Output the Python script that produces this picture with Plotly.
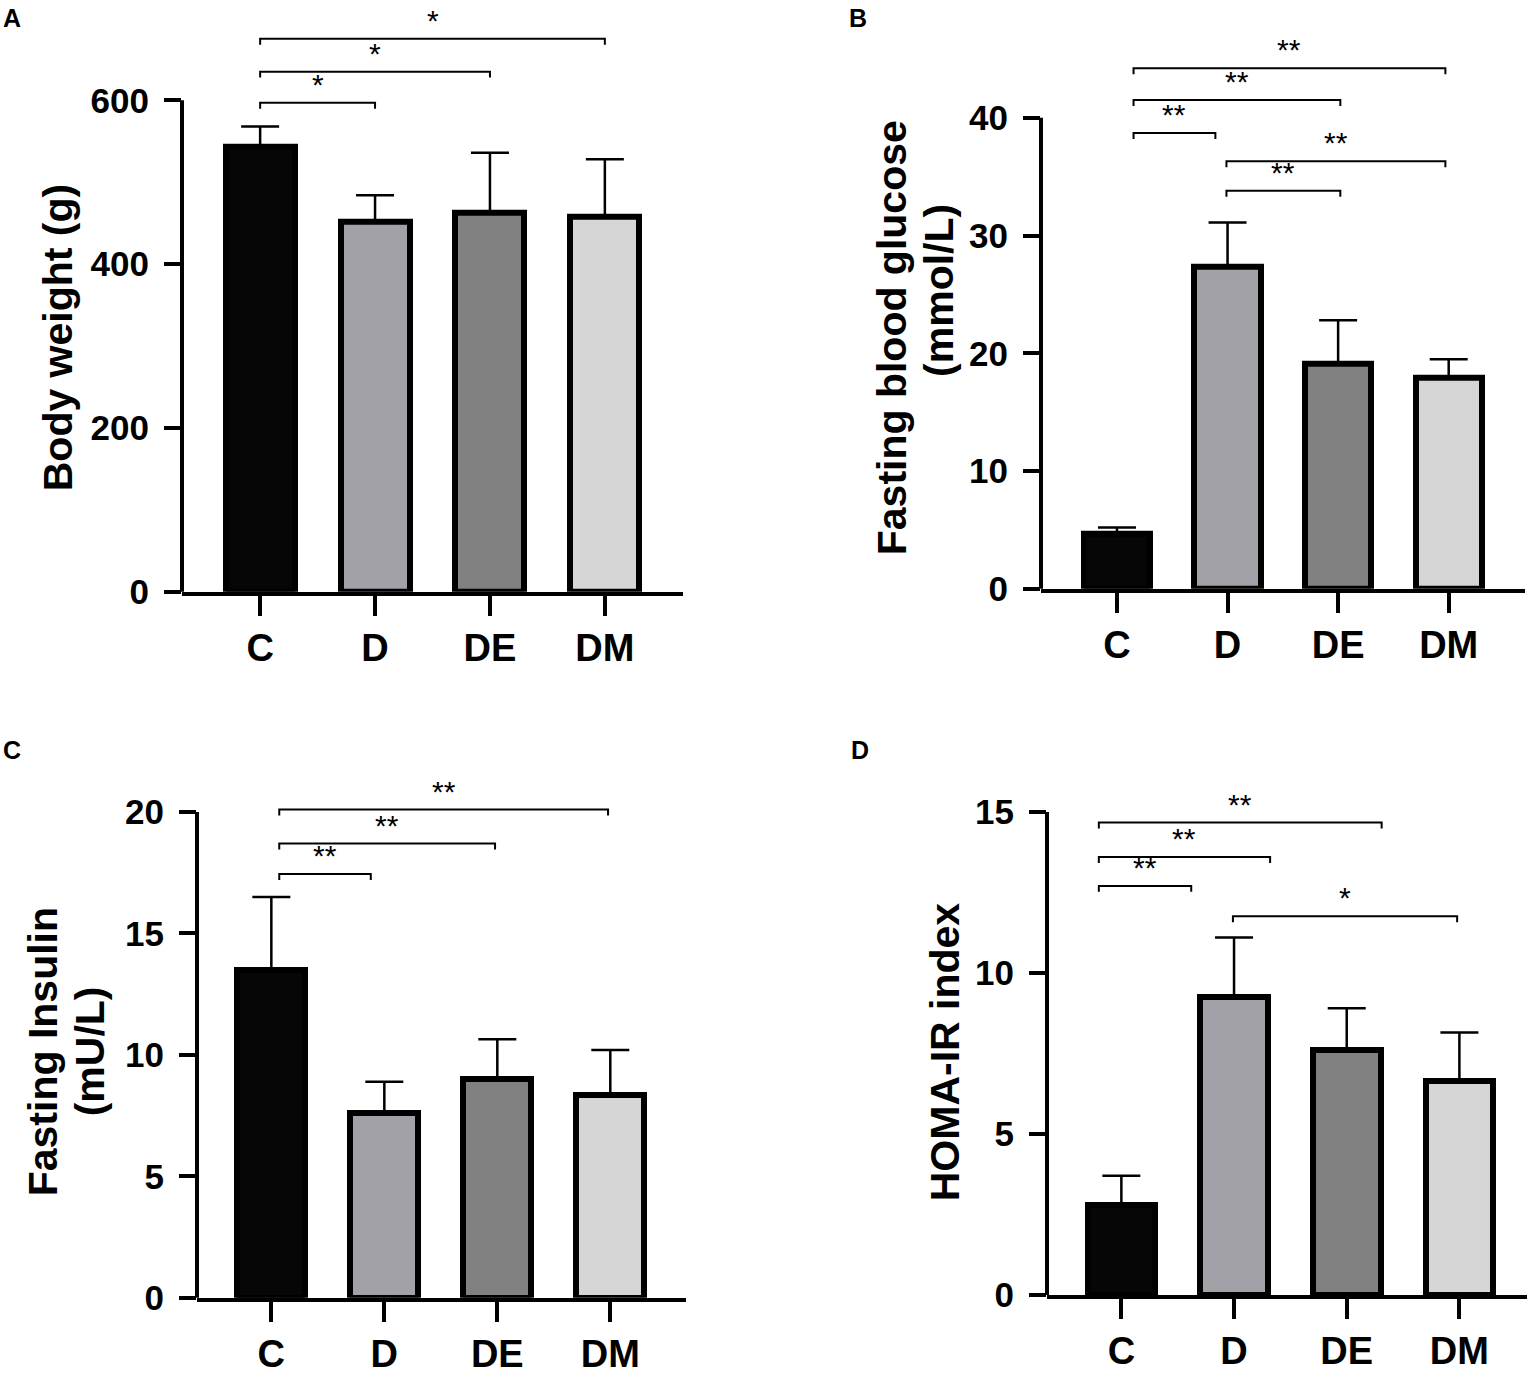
import plotly.graph_objects as go

W, H = 1535, 1377

# ---- data ----
groups = ["C", "D", "DE", "DM"]
bar_colors = ["#060606", "#a1a1a7", "#808180", "#d6d6d6"]

body_weight = [543, 452, 462, 458]
body_weight_sd = [25, 32, 74, 70]

glucose = [4.7, 27.3, 19.1, 17.9]
glucose_sd = [0.5, 3.8, 3.7, 1.6]

insulin = [13.5, 7.6, 9.0, 8.35]
insulin_sd = [3.0, 1.3, 1.65, 1.85]

homa = [2.8, 9.25, 7.6, 6.65]
homa_sd = [0.9, 1.85, 1.3, 1.5]

# significance brackets: (from group, to group, height, label)
brackets_a = [(0, 1, 597, "*"), (0, 2, 635, "*"), (0, 3, 675, "*")]
brackets_b = [(0, 1, 38.7, "**"), (0, 2, 41.5, "**"), (0, 3, 44.2, "**"),
              (1, 2, 33.8, "**"), (1, 3, 36.3, "**")]
brackets_c = [(0, 1, 17.45, "**"), (0, 2, 18.7, "**"), (0, 3, 20.1, "**")]
brackets_d = [(0, 1, 12.7, "**"), (0, 2, 13.6, "**"), (0, 3, 14.67, "**"), (1, 3, 11.76, "*")]

# little horizontal nudges of the bracket ends (as drawn in the original)
nudge_a = [(0, 0), (0, 0), (0, 0)]
nudge_b = [(0.15, -0.11), (0.15, 0.02), (0.15, -0.03), (-0.01, 0.02), (-0.01, -0.03)]
nudge_c = [(0.07, -0.12), (0.07, -0.02), (0.07, -0.02)]
nudge_d = [(-0.2, -0.38), (-0.2, -0.68), (-0.2, -0.69), (-0.01, -0.02)]

# y titles, one entry per line: (text, x px, y px)
title_a = [("Body weight (g)", 58, 343)]
title_b = [("Fasting blood glucose", 892, 343), ("(mmol/L)", 939, 295)]
title_c = [("Fasting Insulin", 43, 1067), ("(mU/L)", 90, 1066)]
title_d = [("HOMA-IR index", 945, 1067)]

# panel layout in pixels
panels = [
    dict(letter="A", vals=body_weight, sd=body_weight_sd, ticks=[0, 200, 400, 600],
         title=title_a, brackets=brackets_a, nudge=nudge_a,
         xpx=(182, 683), xr=(-0.68, 3.68), zero=600, top=10, ppu=0.8305, letter_xy=(12, 18)),
    dict(letter="B", vals=glucose, sd=glucose_sd, ticks=[0, 10, 20, 30, 40],
         title=title_b, brackets=brackets_b, nudge=nudge_b,
         xpx=(1041, 1525), xr=(-0.687, 3.69), zero=597, top=10, ppu=11.94, letter_xy=(858, 18)),
    dict(letter="C", vals=insulin, sd=insulin_sd, ticks=[0, 5, 10, 15, 20],
         title=title_c, brackets=brackets_c, nudge=nudge_c,
         xpx=(197, 686), xr=(-0.658, 3.67), zero=1316, top=730, ppu=24.63, letter_xy=(12, 760)),
    dict(letter="D", vals=homa, sd=homa_sd, ticks=[0, 5, 10, 15],
         title=title_d, brackets=brackets_d, nudge=nudge_d,
         xpx=(1047, 1527), xr=(-0.66, 3.6), zero=1313, top=730, ppu=32.65, letter_xy=(860, 760)),
]

FONT = "Liberation Sans, Arial, sans-serif"

fig = go.Figure()
shapes = []
annotations = []
layout = {}

for i, p in enumerate(panels):
    n = "" if i == 0 else str(i + 1)
    xa, ya = "x" + n, "y" + n
    xs = list(range(len(groups)))
    ymax = (p["zero"] - p["top"]) / p["ppu"]
    unit = 1.0 / p["ppu"]  # data units per pixel

    fig.add_trace(go.Bar(
        x=xs, y=p["vals"], width=0.6, xaxis=xa, yaxis=ya,
        marker=dict(color=bar_colors, line=dict(color="black", width=6)),
        error_y=dict(type="data", symmetric=False, array=p["sd"],
                     arrayminus=[0] * len(xs), color="black", thickness=2.5, width=19),
        showlegend=False,
    ))

    for (a, b, h, lab), (na, nb) in zip(p["brackets"], p["nudge"]):
        x0, x1 = a + na, b + nb
        drop = 6 * unit
        fig.add_trace(go.Scatter(
            x=[x0, x0, x1, x1], y=[h - drop, h, h, h - drop], mode="lines",
            line=dict(color="black", width=2), xaxis=xa, yaxis=ya,
            showlegend=False, hoverinfo="skip",
        ))
        annotations.append(dict(
            x=(x0 + x1) / 2, y=h, xref=xa, yref=ya, text=lab, showarrow=False,
            yanchor="bottom", yshift=0, font=dict(family=FONT, size=30, color="black"),
        ))

    # y axis line only up to the top tick
    shapes.append(dict(
        type="line", xref=xa + " domain", yref=ya, x0=0, x1=0,
        y0=-4 * unit, y1=p["ticks"][-1], line=dict(color="black", width=4),
    ))

    # y title lines
    for txt, tx, ty in p["title"]:
        annotations.append(dict(
            x=tx / W, y=1 - ty / H, xref="paper", yref="paper",
            text=txt, textangle=-90, showarrow=False, xanchor="center", yanchor="middle",
            font=dict(family=FONT, size=41, color="black", weight="bold"),
        ))

    layout["xaxis" + n] = dict(
        domain=[p["xpx"][0] / W, p["xpx"][1] / W], range=list(p["xr"]), anchor=ya,
        tickvals=xs, ticktext=groups, showline=True, linewidth=4, linecolor="black",
        ticks="outside", ticklen=20, tickwidth=4, tickcolor="black", showgrid=False,
        zeroline=False, ticklabelstandoff=0,
        tickfont=dict(family=FONT, size=38, color="black", weight="bold"),
    )
    layout["yaxis" + n] = dict(
        domain=[1 - p["zero"] / H, 1 - p["top"] / H], range=[0, ymax], anchor=xa,
        tickvals=p["ticks"], showline=False, ticks="outside", ticklen=17, tickwidth=4,
        tickcolor="black", showgrid=False, zeroline=False, ticklabelstandoff=8,
        tickfont=dict(family=FONT, size=35, color="black", weight="bold"),
    )

    annotations.append(dict(
        x=p["letter_xy"][0] / W, y=1 - p["letter_xy"][1] / H, xref="paper", yref="paper",
        text=p["letter"], showarrow=False, xanchor="center", yanchor="middle",
        font=dict(family=FONT, size=25, color="black", weight="bold"),
    ))

fig.update_layout(
    width=W, height=H, margin=dict(l=0, r=0, t=0, b=0),
    paper_bgcolor="white", plot_bgcolor="white",
    shapes=shapes, annotations=annotations, bargap=0, **layout,
)

# drop the default page margin so the figure sits at the window corner
fig.write_html("out.html", post_script="document.body.style.margin='0';",
               config={"displayModeBar": False})
